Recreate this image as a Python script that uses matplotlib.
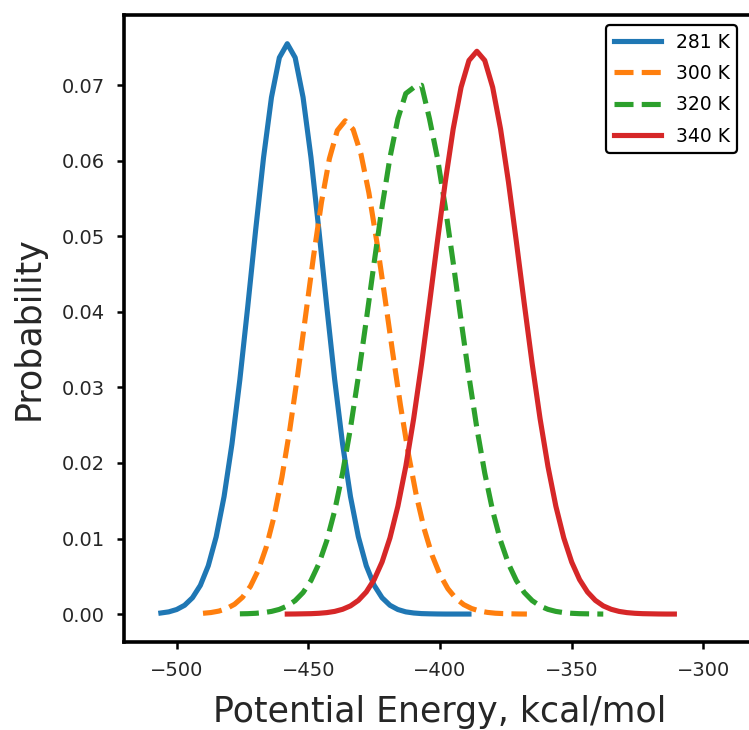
import matplotlib
matplotlib.use('Agg')
import matplotlib.pyplot as plt

# Potential energy histograms (kcal/mol) for each temperature
labels = ['281 K', '300 K', '320 K', '340 K']
colors = ['#1f77b4', '#ff7f0e', '#2ca02c', '#d62728']
styles = ['-', '--', '--', '-']

energy_281 = list(range(-506, -388, 3))
prob_281 = [0.00014, 0.00029, 0.00060, 0.00116, 0.00216, 0.00380, 0.00639, 0.01022,
            0.01555, 0.02252, 0.03104, 0.04072, 0.05086, 0.06045, 0.06840, 0.07366,
            0.07550, 0.07366, 0.06840, 0.06045, 0.05086, 0.04072, 0.03104, 0.02252,
            0.01555, 0.01022, 0.00639, 0.00380, 0.00216, 0.00116, 0.00060, 0.00029,
            0.00014, 0.00006, 0.00003, 0.00001, 0.0, 0.0, 0.0, 0.0]

energy_300 = list(range(-490, -366, 3))
prob_300 = [0.00010, 0.00020, 0.00039, 0.00073, 0.00130, 0.00222, 0.00367, 0.00581,
            0.00884, 0.01292, 0.01816, 0.02451, 0.03178, 0.03961, 0.04742, 0.05454,
            0.06028, 0.06401, 0.06530, 0.06416, 0.06087, 0.05575, 0.04929, 0.04208,
            0.03468, 0.02760, 0.02120, 0.01572, 0.01126, 0.00778, 0.00520, 0.00335,
            0.00208, 0.00125, 0.00073, 0.00041, 0.00022, 0.00011, 0.00006, 0.00003,
            0.00001, 0.0]

energy_320 = list(range(-476, -337, 3))
prob_320 = [0.00003, 0.00005, 0.00010, 0.00019, 0.00035, 0.00062, 0.00107, 0.00178,
            0.00285, 0.00443, 0.00666, 0.00970, 0.01367, 0.01865, 0.02461, 0.03145,
            0.03888, 0.04654, 0.05390, 0.06043, 0.06557, 0.06890, 0.06970, 0.07000,
            0.06557, 0.06043, 0.05390, 0.04654, 0.03888, 0.03145, 0.02461, 0.01865,
            0.01367, 0.00970, 0.00666, 0.00443, 0.00285, 0.00178, 0.00107, 0.00062,
            0.00035, 0.00019, 0.00010, 0.00005, 0.00003, 0.00001, 0.0]

energy_340 = list(range(-458, -310, 3))
prob_340 = [0.0, 0.00001, 0.00003, 0.00005, 0.00010, 0.00019, 0.00035, 0.00063,
            0.00108, 0.00181, 0.00292, 0.00456, 0.00689, 0.01008, 0.01427, 0.01953,
            0.02587, 0.03314, 0.04109, 0.04928, 0.05719, 0.06420, 0.06973, 0.07328,
            0.07450, 0.07328, 0.06973, 0.06420, 0.05719, 0.04928, 0.04109, 0.03314,
            0.02587, 0.01953, 0.01427, 0.01008, 0.00689, 0.00456, 0.00292, 0.00181,
            0.00108, 0.00063, 0.00035, 0.00019, 0.00010, 0.00005, 0.00003, 0.00001,
            0.0, 0.0]

energies = [energy_281, energy_300, energy_320, energy_340]
probs = [prob_281, prob_300, prob_320, prob_340]

fig = plt.figure(figsize=(7.49, 7.30), dpi=100)
# axes runs off the right edge, as in the original crop
ax = fig.add_axes([124 / 749, 1 - 642 / 730, 632 / 749, 627 / 730])

for x, y, lab, c, ls in zip(energies, probs, labels, colors, styles):
    ax.plot(x, y, color=c, linestyle=ls, linewidth=3.7, label=lab)

ax.set_xlim(-520, -280)
ax.set_ylim(-0.0037, 0.0793)
ax.set_xticks([-500, -450, -400, -350, -300])
ax.set_yticks([0.0, 0.01, 0.02, 0.03, 0.04, 0.05, 0.06, 0.07])
ax.set_yticklabels(['0.00', '0.01', '0.02', '0.03', '0.04', '0.05', '0.06', '0.07'])

for s in ax.spines.values():
    s.set_linewidth(2.6)
    s.set_color('black')
ax.tick_params(direction='out', length=5, width=1.8, labelsize=14,
               labelcolor='#262626', pad=8.5)

ax.set_xlabel('Potential Energy, kcal/mol', fontsize=25, color='#262626', labelpad=11)
ax.set_ylabel('Probability', fontsize=25, color='#262626', labelpad=11.5)

leg = ax.legend(loc='upper right', bbox_to_anchor=(737 / 749, 1 - 25 / 730),
                bbox_transform=fig.transFigure, borderaxespad=0, fontsize=13.5,
                handlelength=2.5, labelspacing=0.66, framealpha=1, fancybox=True)
leg.get_frame().set_edgecolor('black')
leg.get_frame().set_linewidth(1.6)

fig.savefig('out.png', dpi=100)
